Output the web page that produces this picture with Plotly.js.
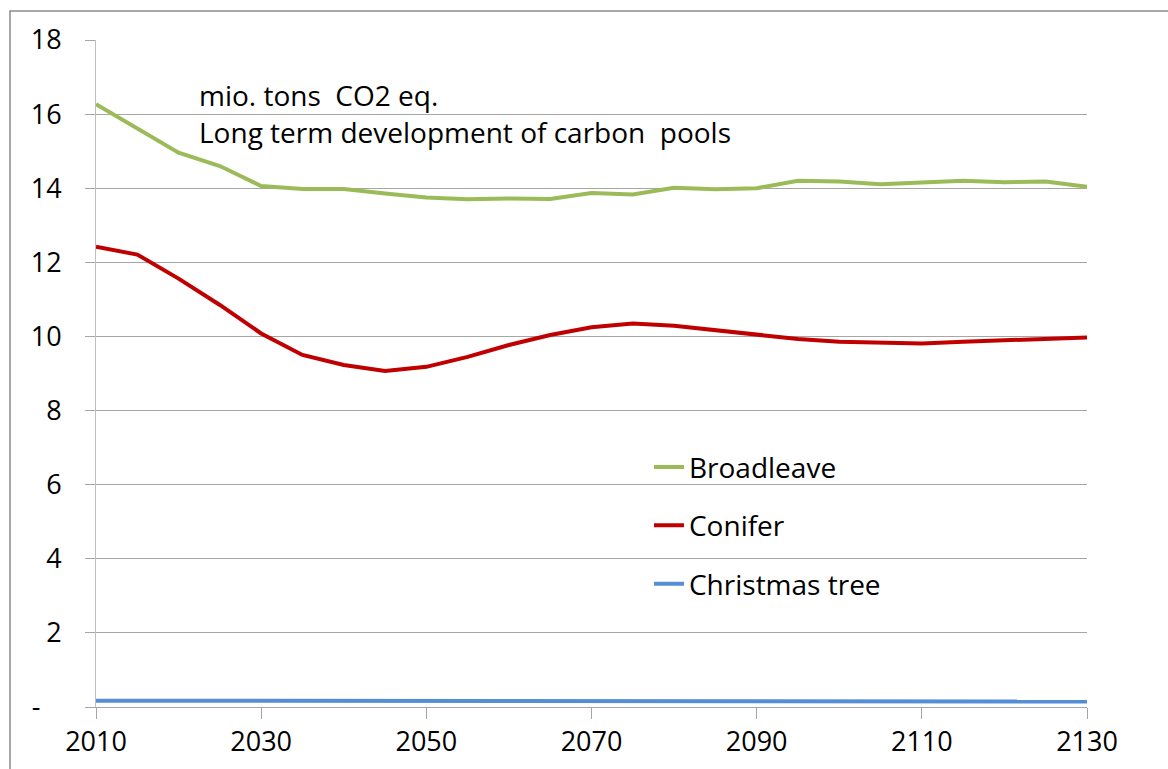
<!DOCTYPE html>
<html>
<head>
<meta charset="utf-8">
<script src="https://cdn.plot.ly/plotly-3.0.1.min.js"></script>
<style>html,body{margin:0;padding:0;background:#fff;}#chart{width:1168px;height:769px;}</style>
</head>
<body>
<div id="chart"></div>
<script>
const years = [2010,2015,2020,2025,2030,2035,2040,2045,2050,2055,2060,2065,2070,2075,2080,2085,2090,2095,2100,2105,2110,2115,2120,2125,2130];
const broadleave = [16.27,15.62,14.96,14.60,14.06,13.98,13.98,13.86,13.75,13.70,13.72,13.71,13.87,13.83,14.01,13.97,14.00,14.20,14.18,14.11,14.15,14.20,14.16,14.18,14.04];
const conifer = [12.42,12.21,11.56,10.85,10.08,9.50,9.23,9.07,9.18,9.45,9.77,10.04,10.25,10.35,10.29,10.17,10.04,9.93,9.86,9.83,9.81,9.86,9.90,9.94,9.97];
const christmas = [0.17,0.17,0.17,0.15,0.15,0.15,0.15,0.15,0.15,0.15,0.15,0.15,0.15,0.15,0.15,0.15,0.15,0.15,0.15,0.15,0.15,0.15,0.15,0.15,0.15];
const seriesNames = ['Broadleave','Conifer','Christmas tree'];
const xTickVals = [2010,2030,2050,2070,2090,2110,2130];
const xTickText = ['2010','2030','2050','2070','2090','2110','2130'];
const yTickVals = [0,2,4,6,8,10,12,14,16,18];
const yTickText = ['-\u00A0\u00A0\u00A0','2','4','6','8','10','12','14','16','18'];
const noteLines = ['mio. tons\u00A0 CO2 eq.','Long term development of carbon\u00A0 pools'];

const FONT = 'Open Sans, sans-serif';
const colors = ['#9BBB59','#C00000','#558ED5'];
const ys = [broadleave, conifer, christmas];

const traces = ys.map((y,i)=>({
  x: years, y: y, type:'scatter', mode:'lines', name: seriesNames[i],
  legendgroup: 'g'+i,
  line:{color:colors[i], width:4}
}));

const layout = {
  width:1168, height:769,
  margin:{l:96, r:81, t:40, b:62},
  paper_bgcolor:'#fff', plot_bgcolor:'#fff',
  font:{family:FONT, size:27, color:'#000'},
  showlegend:true,
  legend:{x:0.558, y:0.397, xanchor:'left', yanchor:'top', bgcolor:'rgba(0,0,0,0)',
    font:{family:FONT, size:28, color:'#000'}, tracegroupgap:19, traceorder:'grouped'},
  xaxis:{range:[2010,2130], tickvals:xTickVals, ticktext:xTickText, showgrid:false,
    zeroline:false, showline:true, linecolor:'#a6a6a6', linewidth:1,
    ticks:'outside', ticklen:11, tickcolor:'#a6a6a6', tickwidth:1,
    tickfont:{family:FONT, size:27, color:'#000'}},
  yaxis:{range:[0,18], tickvals:yTickVals, ticktext:yTickText, showgrid:true,
    gridcolor:'#a6a6a6', gridwidth:1, zeroline:false, showline:true, linecolor:'#bfbfbf', linewidth:1,
    ticks:'outside', ticklen:10, tickcolor:'#a6a6a6', tickwidth:1, ticklabelstandoff:18,
    tickfont:{family:FONT, size:27, color:'#000'}},
  annotations: noteLines.map((t,i)=>({
    text:t, xref:'paper', yref:'paper', x:0.102, y: i===0?0.917:0.862,
    xanchor:'left', yanchor:'middle', showarrow:false,
    font:{family:FONT, size:28, color:'#000'}
  })),
  shapes:[{type:'rect', xref:'paper', yref:'paper', x0:-0.0868, x1:1.2, y0:-0.2, y1:1.0435,
    line:{color:'#8c8c8c', width:1.5}, fillcolor:'rgba(0,0,0,0)', layer:'below'}]
};
Plotly.newPlot('chart', traces, layout, {displayModeBar:false, staticPlot:true});
</script>
</body>
</html>
